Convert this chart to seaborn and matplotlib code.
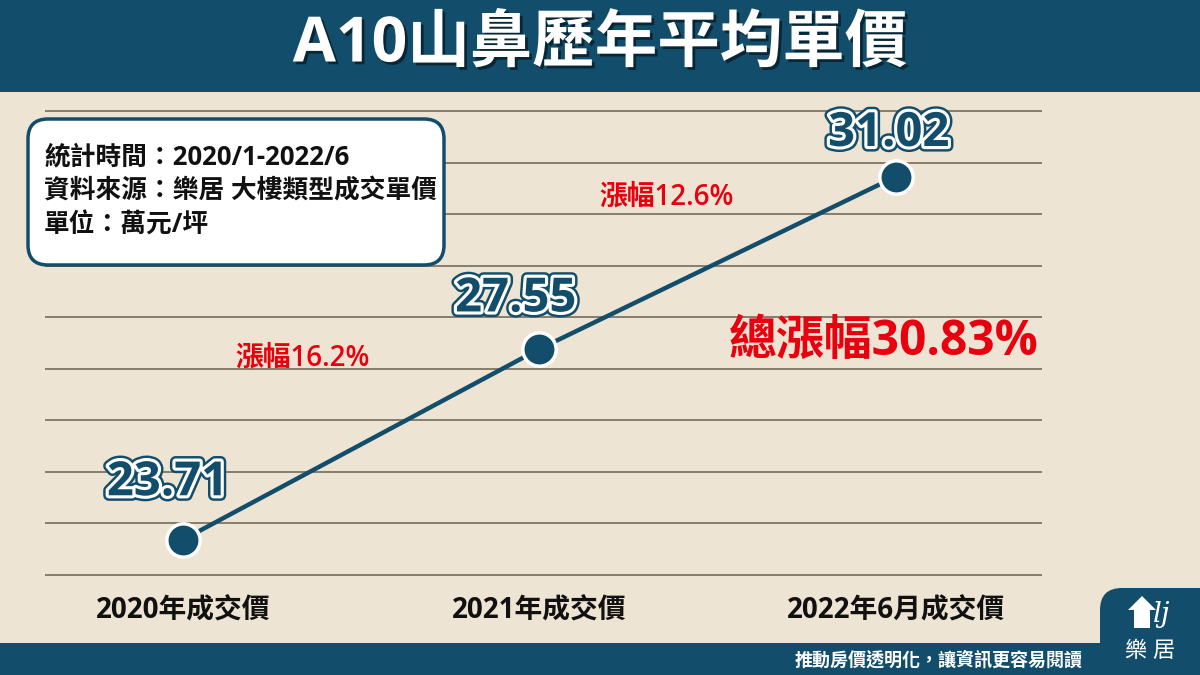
import numpy as np
import pandas as pd
import matplotlib
matplotlib.use("Agg")
import matplotlib.pyplot as plt
import matplotlib.patheffects as pe
from matplotlib.patches import FancyBboxPatch, Rectangle, Polygon
import seaborn as sns

# data
categories = ["2020年成交價", "2021年成交價", "2022年6月成交價"]
prices = [23.71, 27.55, 31.02]
title = "A10山鼻歷年平均單價"
info_lines = ["統計時間：2020/1-2022/6", "資料來源：樂居 大樓類型成交單價", "單位：萬元/坪"]
footer = "推動房價透明化，讓資訊更容易閱讀"

DARK = "#124E6B"
BEIGE = "#EDE4D3"
RED = "#E8000F"
GRID = "#7D7565"

sns.set_theme(style="white")
# Open Sans for latin/digits, CJK falls through to Noto
plt.rcParams["font.family"] = ["Open Sans", "Noto Sans CJK TC", "DejaVu Sans"]

df = pd.DataFrame({"cat": categories, "price": prices})

fig = plt.figure(figsize=(12, 6.75), dpi=100)
fig.patch.set_facecolor(BEIGE)

W, H = 1200, 675

def px_rect(x0, y0, x1, y1):
    # pixel box (top-left origin) -> figure fraction rect
    return [x0 / W, 1 - y1 / H, (x1 - x0) / W, (y1 - y0) / H]

# background decorations (banner, footer bar)
bg = fig.add_axes([0, 0, 1, 1], zorder=0)
bg.set_xlim(0, W)
bg.set_ylim(H, 0)
bg.axis("off")
bg.add_patch(Rectangle((0, 0), W, 92, color=DARK, lw=0))
bg.add_patch(Rectangle((0, 643), W, 32, color=DARK, lw=0))
bg.text(W / 2, 45, title, color="white", fontsize=45, fontweight="bold",
        ha="center", va="center",
        path_effects=[pe.withSimplePatchShadow(offset=(2, -2), shadow_rgbFace="black", alpha=0.5)])
bg.text(1083, 660, footer, color="white", fontsize=13, fontweight="bold", ha="right", va="center")

# main chart
ax = fig.add_axes(px_rect(45, 100, 1042, 585), zorder=1)
ax.patch.set_alpha(0)
sns.lineplot(data=df, x="cat", y="price", ax=ax, color=DARK, lw=3.2, sort=False,
             marker="o", markersize=24, markerfacecolor=DARK,
             markeredgecolor="white", markeredgewidth=2.5, zorder=3)

y_lo, y_hi = 23.0, 32.34
ax.set_ylim(y_lo - (585 - 575) / 49.66, y_hi + (111 - 100) / 49.66)
ax.set_xlim(-0.387, 2.41)
ax.set_yticks(np.linspace(y_lo, y_hi, 10))
ax.yaxis.grid(True, color=GRID, lw=1.3)
ax.xaxis.grid(False)
ax.set_yticklabels([])
ax.tick_params(axis="y", length=0)
ax.tick_params(axis="x", length=0, pad=8, labelsize=20)
for lab in ax.get_xticklabels():
    lab.set_fontweight("bold")
    lab.set_color("#111111")
ax.set_xlabel("")
ax.set_ylabel("")
for s in ax.spines.values():
    s.set_visible(False)

# value labels
value_fx = [pe.withSimplePatchShadow(offset=(3, -3), shadow_rgbFace="black", alpha=0.35),
            pe.Stroke(linewidth=8, foreground=DARK),
            pe.Stroke(linewidth=4.5, foreground="white"),
            pe.Normal()]
label_offsets = [(-11, 41), (-17, 36), (-5, 31)]
for i, (v, off) in enumerate(zip(prices, label_offsets)):
    ax.annotate(f"{v:.2f}", (i, v), xytext=off, textcoords="offset points",
                ha="center", va="center", fontsize=34, fontweight="bold",
                color=DARK, path_effects=value_fx, zorder=5)

# segment growth labels
seg_offsets = [(-42, 62), (-37, 47)]
for i in range(len(prices) - 1):
    pct = (prices[i + 1] / prices[i] - 1) * 100
    ax.annotate(f"漲幅{pct:.1f}%", (i + 0.5, (prices[i] + prices[i + 1]) / 2),
                xytext=seg_offsets[i], textcoords="offset points",
                ha="center", va="center", fontsize=20, fontweight="semibold", color=RED)

# overlay: info box, total growth, logo
ov = fig.add_axes([0, 0, 1, 1], zorder=2)
ov.set_xlim(0, W)
ov.set_ylim(H, 0)
ov.axis("off")
ov.patch.set_alpha(0)
ov.add_patch(FancyBboxPatch((28, 119), 416, 146, boxstyle="round,pad=0,rounding_size=20",
                            facecolor="white", edgecolor=DARK, lw=2.5))
for k, line in enumerate(info_lines):
    ov.text(44, 157 + 34 * k, line, fontsize=18.5, fontweight="bold", color="#111111",
            ha="left", va="center")

total = (prices[-1] / prices[0] - 1) * 100
ov.text(884, 342, f"總漲幅{total:.2f}%", fontsize=34.5, fontweight="bold", color=RED,
        ha="center", va="center")

# logo
ov.add_patch(FancyBboxPatch((1100, 588), 140, 120, boxstyle="round,pad=0,rounding_size=22",
                            facecolor=DARK, edgecolor="none"))
ov.add_patch(Polygon([[1128, 610], [1142, 596], [1156, 610], [1150, 610], [1150, 628],
                      [1134, 628], [1134, 610]], closed=True, facecolor="white", edgecolor="none"))
ov.text(1162, 614, "lj", fontsize=20, fontstyle="italic", color="white", ha="center", va="center",
        family=["DejaVu Serif"])
ov.text(1150, 651, "樂 居", fontsize=16, color="white", ha="center", va="center")

fig.savefig("out.png", dpi=100, facecolor=BEIGE)
